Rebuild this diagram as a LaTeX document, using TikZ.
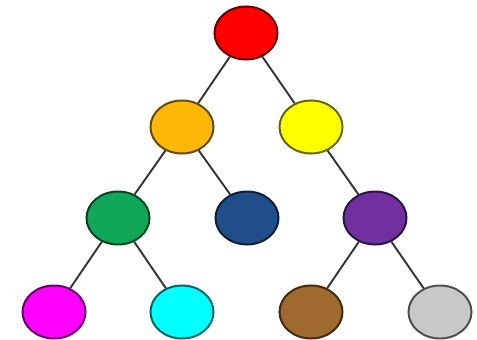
\documentclass[tikz,border=0pt]{standalone}
\usetikzlibrary{shapes.geometric}
\definecolor{cRed}{HTML}{FF0000}
\definecolor{cOrange}{HTML}{FFB808}
\definecolor{cYellow}{HTML}{FFFF00}
\definecolor{cGreen}{HTML}{10A858}
\definecolor{cBlue}{HTML}{1F4E8A}
\definecolor{cPurple}{HTML}{7030A0}
\definecolor{cMagenta}{HTML}{FF00FF}
\definecolor{cCyan}{HTML}{00FFFF}
\definecolor{cBrown}{HTML}{A0692E}
\definecolor{cGray}{HTML}{C8C8C8}
\definecolor{edgecol}{HTML}{333333}
\tikzset{
  ball/.style={ellipse, minimum width=63pt, minimum height=53pt, inner sep=0pt, line width=2pt, fill=#1, draw=#1!40!black},
  edge/.style={draw=edgecol, line width=1.9pt}
}
\begin{document}
\begin{tikzpicture}[x=1pt,y=-1pt]
\useasboundingbox (0,0) rectangle (477,340);
\node[ball=cRed] (r) at (246,33) {};
\node[ball=cOrange] (o) at (182,127) {};
\node[ball=cYellow] (y) at (311,127) {};
\node[ball=cGreen] (g) at (118,218) {};
\node[ball=cBlue] (b) at (247,218) {};
\node[ball=cPurple] (p) at (375,218) {};
\node[ball=cMagenta] (m) at (54,312) {};
\node[ball=cCyan] (c) at (182,312) {};
\node[ball=cBrown] (br) at (311,312) {};
\node[ball=cGray] (gr) at (440,312) {};
\draw[edge] (r) -- (o);
\draw[edge] (r) -- (y);
\draw[edge] (o) -- (g);
\draw[edge] (o) -- (b);
\draw[edge] (y) -- (p);
\draw[edge] (g) -- (m);
\draw[edge] (g) -- (c);
\draw[edge] (p) -- (br);
\draw[edge] (p) -- (gr);
\end{tikzpicture}
\end{document}
